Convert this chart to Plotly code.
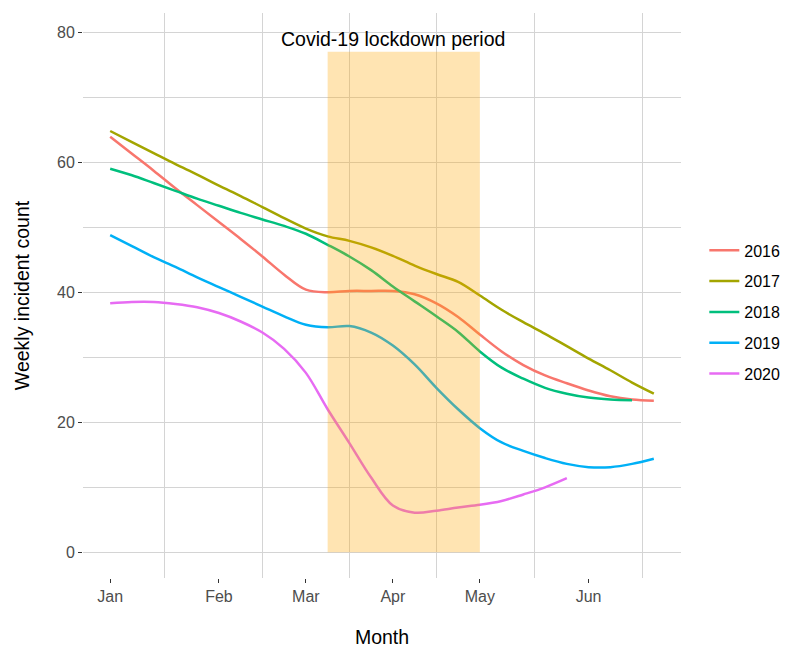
import plotly.graph_objects as go

weeks = list(range(1, 27))
tick_weeks = [1, 6, 10, 14, 18, 23]
tick_labels = ["Jan", "Feb", "Mar", "Apr", "May", "Jun"]
minor_weeks = [3.5, 8, 12, 16, 20.5, 25.5]

years = ["2016", "2017", "2018", "2019", "2020"]
v2016 = [63.9, 61.3, 58.7, 56.0, 53.4, 50.8, 48.2, 45.5, 42.7, 40.4, 40.0, 40.2, 40.2, 40.2, 39.7,
         38.3, 36.2, 33.5, 30.9, 28.8, 27.2, 26.0, 24.9, 24.0, 23.5, 23.3]
v2017 = [64.8, 63.1, 61.4, 59.7, 58.1, 56.4, 54.8, 53.1, 51.4, 49.8, 48.6, 47.9, 46.9, 45.6, 44.1,
         42.8, 41.6, 39.5, 37.3, 35.4, 33.6, 31.7, 29.8, 28.0, 26.1, 24.4]
v2018 = [59.0, 58.0, 56.8, 55.6, 54.4, 53.3, 52.2, 51.2, 50.2, 49.0, 47.3, 45.5, 43.4, 40.9, 38.6,
         36.3, 33.9, 30.9, 28.4, 26.7, 25.3, 24.4, 23.8, 23.5, 23.4]
v2019 = [48.8, 47.1, 45.4, 43.9, 42.3, 40.8, 39.3, 37.8, 36.3, 35.0, 34.6, 34.8, 33.8, 31.8, 28.9,
         25.3, 22.0, 19.1, 16.9, 15.6, 14.5, 13.6, 13.1, 13.1, 13.6, 14.4]
v2020 = [38.3, 38.5, 38.5, 38.2, 37.7, 36.8, 35.5, 33.8, 31.3, 27.6, 22.0, 16.8, 11.5, 7.2, 6.1,
         6.4, 6.9, 7.3, 7.9, 8.9, 10.0, 11.4]
series = [v2016, v2017, v2018, v2019, v2020]
colors = ["#F8766D", "#A3A500", "#00BF7D", "#00B0F6", "#E76BF3"]

lockdown_start, lockdown_end, lockdown_top = 11, 18, 77
label_text = "Covid-19 lockdown period"
label_x, label_y = 14, 79

FONT = "Liberation Sans, Arial, sans-serif"
GRID = "#D4D4D4"

fig = go.Figure()
for name, vals, col in zip(years, series, colors):
    fig.add_trace(go.Scatter(
        x=weeks[:len(vals)], y=vals, mode="lines", name=name, legendgroup=name,
        line=dict(color=col, width=2.5, shape="spline", smoothing=1.0),
    ))

fig.add_shape(type="rect", xref="x", yref="y", x0=lockdown_start, x1=lockdown_end,
              y0=0, y1=lockdown_top, fillcolor="rgba(255,165,0,0.3)", line=dict(width=0),
              layer="above")
fig.add_annotation(x=label_x, y=label_y, text=label_text, showarrow=False,
                   font=dict(family=FONT, size=19.5, color="black"), xanchor="center", yanchor="middle")

# page body has an 8px default margin, so the figure is sized to the visible area
fig.update_layout(
    width=784, height=640,
    margin=dict(l=75, r=111, t=5, b=70, autoexpand=False),
    paper_bgcolor="white", plot_bgcolor="white",
    font=dict(family=FONT, size=16, color="#4D4D4D"),
    showlegend=True,
    legend=dict(x=1.039, xanchor="left", y=0.471, yanchor="middle", tracegroupgap=7,
                font=dict(family=FONT, size=16, color="black"), bgcolor="rgba(0,0,0,0)"),
    xaxis=dict(
        range=[-0.25, 27.25], tickmode="array", tickvals=tick_weeks, ticktext=tick_labels,
        showgrid=False, zeroline=False, showline=False, automargin=False,
        ticks="outside", ticklen=4, tickcolor="#333333", tickwidth=1,
        tickfont=dict(family=FONT, size=16, color="#4D4D4D"),
        minor=dict(tickmode="array", tickvals=minor_weeks, showgrid=True, gridcolor=GRID, gridwidth=1.3, ticks=""),
        title=dict(text="Month", font=dict(family=FONT, size=19.5, color="black"), standoff=27),
    ),
    yaxis=dict(
        range=[-3.95, 82.95], tickmode="array", tickvals=[0, 20, 40, 60, 80],
        showgrid=True, gridcolor=GRID, gridwidth=1.3, zeroline=False, showline=False, automargin=False,
        ticks="outside", ticklen=4, tickcolor="#333333", tickwidth=1,
        tickfont=dict(family=FONT, size=16, color="#4D4D4D"),
        minor=dict(tickmode="array", tickvals=[10, 30, 50, 70], showgrid=True, gridcolor=GRID, gridwidth=1.3, ticks=""),
        title=dict(text="Weekly incident count", font=dict(family=FONT, size=19.5, color="black"), standoff=22),
    ),
)

fig.write_html("out.html")
